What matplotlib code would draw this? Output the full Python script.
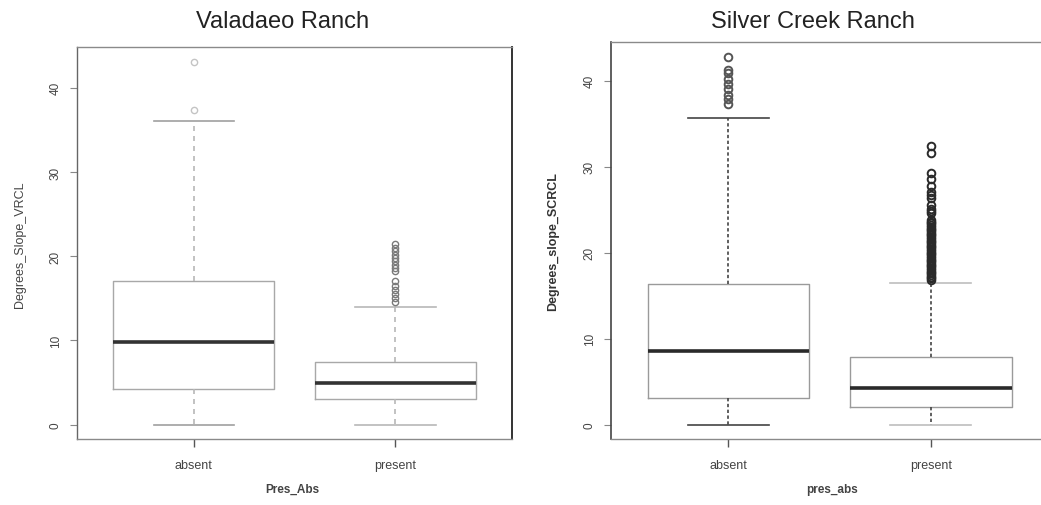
import matplotlib
matplotlib.use("Agg")
import matplotlib.pyplot as plt

plt.rcParams['font.family'] = ['Liberation Sans', 'DejaVu Sans']

# ---------------- data ----------------
categories = ["absent", "present"]

# Valadaeo Ranch
vr_titles = "Valadaeo Ranch"
vr_whislo = [0.0, 0.0]
vr_q1 = [4.2, 3.0]
vr_med = [9.8, 5.0]
vr_q3 = [17.1, 7.4]
vr_whishi = [36.1, 14.0]
vr_fliers_absent = [37.3, 43.1]
vr_fliers_present = [14.6, 15.0, 15.5, 16.0, 16.5, 17.0,
                     18.2, 18.6, 19.0, 19.4, 19.8, 20.2, 20.6, 21.0, 21.4]

# Silver Creek Ranch
sc_titles = "Silver Creek Ranch"
sc_whislo = [0.0, 0.0]
sc_q1 = [3.1, 2.0]
sc_med = [8.5, 4.2]
sc_q3 = [16.4, 7.8]
sc_whishi = [35.7, 16.5]
sc_fliers_absent = [37.3, 37.9, 38.4, 39.1, 39.6, 40.2, 40.9, 41.3, 42.8]
sc_fliers_present = [16.8, 17.0, 17.2, 17.4, 17.6, 17.8, 18.0, 18.2, 18.4, 18.6,
                     18.8, 19.0, 19.2, 19.4, 19.6, 19.8, 20.0, 20.2, 20.4, 20.6,
                     20.8, 21.0, 21.2, 21.4, 21.6, 21.8, 22.0, 22.2, 22.4, 22.6,
                     22.8, 23.0, 23.2, 23.4, 23.6, 23.8, 24.6, 24.9, 25.1, 25.6,
                     26.4, 26.7, 27.0, 27.8, 28.6, 29.3, 31.6, 32.4]

ylabels = ["Degrees_Slope_VRCL", "Degrees_slope_SCRCL"]
xlabels = ["Pres_Abs", "pres_abs"]
yticks = [0, 10, 20, 30, 40]


def make_stats(whislo, q1, med, q3, whishi, fliers):
    stats = []
    for i in range(len(categories)):
        stats.append(dict(whislo=whislo[i], q1=q1[i], med=med[i], q3=q3[i],
                          whishi=whishi[i], fliers=fliers[i], label=categories[i]))
    return stats


fig = plt.figure(figsize=(10.41, 5.06), dpi=100)
fig.patch.set_facecolor("white")

ax1 = fig.add_axes([0.074, 0.130, 0.418, 0.775])
ax2 = fig.add_axes([0.587, 0.130, 0.420, 0.785])

panels = [
    (ax1, make_stats(vr_whislo, vr_q1, vr_med, vr_q3, vr_whishi,
                     [vr_fliers_absent, vr_fliers_present]),
     dict(box="#a8a8a8", med="#333333", whisk="#b8b8b8", wls=(0, (3, 3)),
          caps=["#a0a0a0", "#b8b8b8"], fliers=["#c4c4c4", "#7a7a7a"],
          fsize=4.5, few=1.0, frame="#8a8a8a")),
    (ax2, make_stats(sc_whislo, sc_q1, sc_med, sc_q3, sc_whishi,
                     [sc_fliers_absent, sc_fliers_present]),
     dict(box="#9a9a9a", med="#2a2a2a", whisk="#444444", wls=(0, (2, 1.5)),
          caps=["#444444", "#bdbdbd"], fliers=["#555555", "#2a2a2a"],
          fsize=5.5, few=1.4, frame="#8a8a8a")),
]

for ax, stats, st in panels:
    pos = list(range(1, len(categories) + 1))
    arts = ax.bxp(stats, positions=pos, widths=0.8, capwidths=0.4, patch_artist=False,
                  boxprops=dict(color=st["box"], linewidth=1.0),
                  medianprops=dict(color=st["med"], linewidth=2.6),
                  whiskerprops=dict(color=st["whisk"], linewidth=1.2, linestyle=st["wls"]),
                  capprops=dict(linewidth=1.2),
                  flierprops=dict(marker="o", markerfacecolor="none",
                                  markersize=st["fsize"], markeredgewidth=st["few"]))
    for i in range(len(categories)):
        for c in arts["caps"][2 * i:2 * i + 2]:
            c.set_color(st["caps"][i])
        arts["fliers"][i].set_markeredgecolor(st["fliers"][i])
    allv = []
    for s in stats:
        allv += [s["whislo"], s["whishi"]] + list(s["fliers"])
    lo, hi = min(allv), max(allv)
    r = hi - lo
    ax.set_ylim(lo - 0.04 * r, hi + 0.04 * r)
    n = len(categories)
    ax.set_xlim(0.5 - 0.04 * n, n + 0.5 + 0.04 * n)
    ax.set_yticks(yticks)
    ax.set_yticklabels([str(t) for t in yticks], rotation=90, va="center",
                       fontsize=8.5, color="#444444")
    ax.set_xticks(pos)
    ax.set_xticklabels(categories, fontsize=9, color="#444444")
    ax.tick_params(axis="y", length=5, width=0.8, color="#888888", pad=6)
    ax.tick_params(axis="x", length=6, width=1.0, color="#555555", pad=8)
    for sp in ax.spines.values():
        sp.set_color(st["frame"])
        sp.set_linewidth(1.0)

ax1.spines["right"].set_color("#333333")
ax1.spines["right"].set_linewidth(1.4)
ax1.spines["left"].set_color("#666666")
ax2.spines["left"].set_color("#444444")
ax2.spines["left"].set_linewidth(1.2)

fig.text(0.271, 0.957, vr_titles, ha="center", va="center", fontsize=17, color="#222222")
fig.text(0.781, 0.957, sc_titles, ha="center", va="center", fontsize=17, color="#222222")

fig.text(0.019, 0.516, ylabels[0], rotation=90, ha="center", va="center",
         fontsize=9, color="#444444")
fig.text(0.531, 0.522, ylabels[1], rotation=90, ha="center", va="center",
         fontsize=9, color="#333333", fontweight="bold")

fig.text(0.281, 0.032, xlabels[0], ha="center", va="center", fontsize=8.5,
         color="#444444", fontweight="bold")
fig.text(0.799, 0.032, xlabels[1], ha="center", va="center", fontsize=8.5,
         color="#444444", fontweight="bold")

fig.savefig("out.png", dpi=100)
